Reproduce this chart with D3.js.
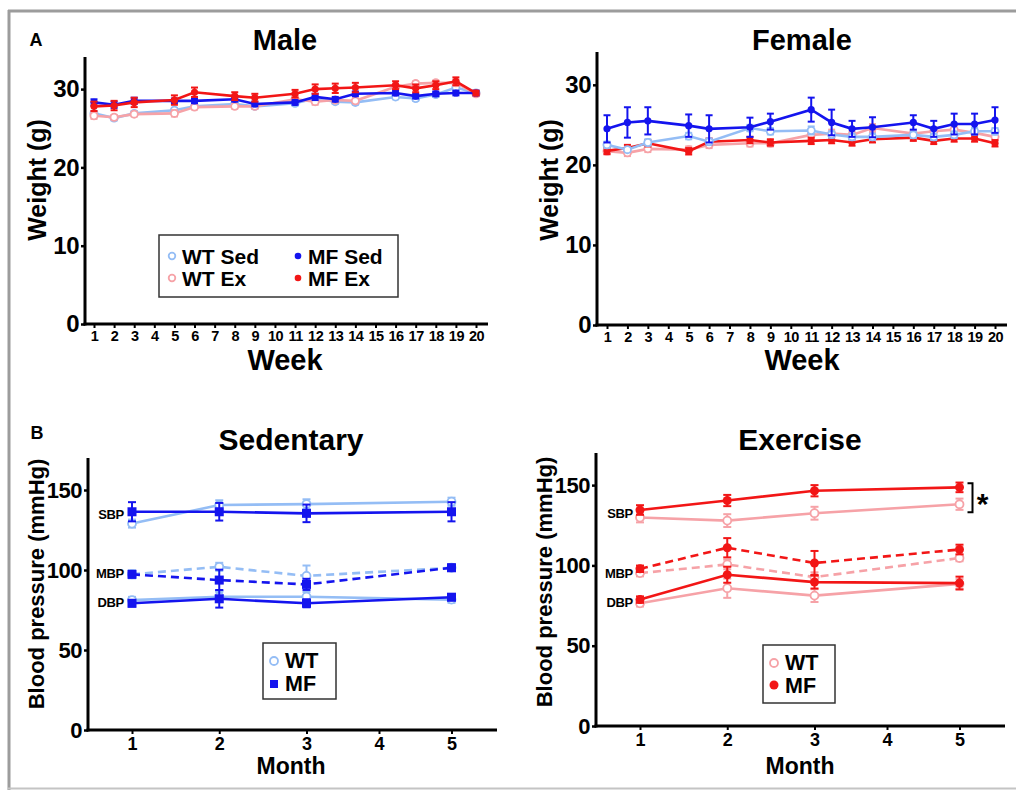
<!DOCTYPE html>
<html><head><meta charset="utf-8">
<script src="https://cdn.jsdelivr.net/npm/d3@7"></script>
<style>
body{margin:0;background:#fff}
svg{display:block}
text{font-family:"Liberation Sans",Arial,Helvetica,sans-serif;font-weight:bold;fill:#000}
</style>
</head><body>
<svg id="chart" width="1016" height="790"></svg>
<script>
// ---------- DATA ----------
const weeks = [1,2,3,5,6,8,9,11,12,13,14,16,17,18,19,20];
const weekTicks = [1,2,3,4,5,6,7,8,9,10,11,12,13,14,15,16,17,18,19,20];
const weightTicks = [0,10,20,30];

// Male weight (g)
const maleWTSed   = [26.9,26.3,26.9,27.3,27.8,28.1,27.8,28.2,28.8,28.4,28.3,29.0,28.8,29.3,30.2,29.5];
const maleWTSedErr= [0.3,0.3,0.3,0.3,0.3,0.3,0.3,0.3,0.3,0.3,0.3,0.3,0.3,0.3,0.4,0.3];
const maleWTEx    = [26.6,26.4,26.8,26.9,27.7,27.8,27.8,28.7,28.4,28.6,28.5,30.3,30.7,30.8,30.8,29.4];
const maleWTExErr = [0.4,0.3,0.3,0.4,0.3,0.3,0.3,0.4,0.4,0.3,0.3,0.3,0.3,0.3,0.4,0.3];
const maleMFSed   = [28.3,28.0,28.5,28.5,28.5,28.7,28.1,28.3,29.0,28.7,29.4,29.5,29.1,29.4,29.5,29.5];
const maleMFSedErr= [0.4,0.4,0.4,0.3,0.3,0.3,0.3,0.3,0.4,0.3,0.3,0.3,0.3,0.3,0.3,0.3];
const maleMFEx    = [27.8,27.9,28.3,28.6,29.6,29.1,28.9,29.4,30.0,30.1,30.2,30.5,30.1,30.5,31.0,29.5];
const maleMFExErr = [0.6,0.6,0.6,0.6,0.6,0.5,0.5,0.5,0.6,0.6,0.6,0.5,0.5,0.5,0.5,0.3];

// Female weight (g)
const femWTSed    = [22.5,21.9,22.8,23.6,22.9,24.6,24.2,24.3,23.8,23.5,23.5,23.75,23.5,23.75,24.2,24.2];
const femWTSedErr = [0.4,0.3,0.4,0.4,0.4,0.4,0.4,0.5,0.4,0.4,0.4,0.4,0.4,0.4,0.4,0.4];
const femWTEx     = [21.7,21.5,22.0,21.9,22.5,22.7,22.7,23.75,23.9,23.75,24.6,23.9,24.2,24.4,24.0,23.5];
const femWTExErr  = [0.4,0.4,0.4,0.4,0.4,0.4,0.4,0.5,0.5,0.4,0.5,0.4,0.5,0.5,0.5,0.5];
const femMFSed    = [24.5,25.3,25.5,24.9,24.5,24.7,25.4,26.9,25.3,24.5,24.7,25.3,24.5,25.1,25.1,25.6];
const femMFSedErr = [1.7,1.9,1.7,1.4,1.7,1.2,1.0,1.5,1.6,1.0,1.25,0.9,1.0,1.3,1.3,1.6];
const femMFEx     = [21.75,22.1,22.7,21.7,22.9,23.1,22.8,23.0,23.1,22.8,23.2,23.4,23.0,23.3,23.3,22.7];
const femMFExErr  = [0.4,0.4,0.4,0.4,0.4,0.4,0.4,0.4,0.4,0.4,0.4,0.4,0.4,0.4,0.4,0.4];

// Blood pressure (mmHg)
const months = [1,2,3,5];
const monthTicks = [1,2,3,4,5];
const bpTicks = [0,50,100,150];

const sedWTSBP = [129.0,140.6,141.2,142.7]; const sedWTSBPErr = [2.5,3,3,2.5];
const sedMFSBP = [136.4,136.4,135.4,136.4]; const sedMFSBPErr = [6,5.5,5.5,6];
const sedWTMBP = [97.3,102.0,96.3,101.4];   const sedWTMBPErr = [2.5,2.5,6.5,2];
const sedMFMBP = [97.3,93.7,91.0,101.4];    const sedMFMBPErr = [2,6.5,3.5,2];
const sedWTDBP = [81.2,83.3,83.3,81.5];     const sedWTDBPErr = [2,3,3,2];
const sedMFDBP = [79.2,82.0,79.2,83.0];     const sedMFDBPErr = [2,5.5,2.5,2];

const exWTSBP = [129.8,127.9,132.5,138.1];  const exWTSBPErr = [3,4,4,3.5];
const exMFSBP = [134.5,140.4,146.5,148.6];  const exMFSBPErr = [3,3.5,3.5,3];
const exWTMBP = [95.2,100.6,92.7,104.6];    const exWTMBPErr = [2,3,3,2];
const exMFMBP = [97.9,111.0,101.5,109.9];   const exMFMBPErr = [2,6,7.5,3];
const exWTDBP = [76.4,85.8,81.2,88.5];      const exWTDBPErr = [2,6,4,3];
const exMFDBP = [78.7,94.2,89.6,89.0];      const exMFDBPErr = [2,5,4,4];

// ---------- STYLE ----------
const C = {wtSed:"#94bdf5", mfSed:"#1414ee", wtEx:"#f6a2a7", mfEx:"#f21616"};

const svg = d3.select("#chart");

// frame
svg.append("line").attr("x1",8).attr("x2",1016).attr("y1",11).attr("y2",11).attr("stroke","#9c9c9c").attr("stroke-width",3);
svg.append("line").attr("x1",9).attr("x2",9).attr("y1",10).attr("y2",790).attr("stroke","#9c9c9c").attr("stroke-width",3);
svg.append("line").attr("x1",8).attr("x2",1016).attr("y1",788.5).attr("y2",788.5).attr("stroke","#c4c4c4").attr("stroke-width",2);

function axes(g, x, y, xTicks, yTicks, box, f){
  const ya = d3.axisLeft(y).tickValues(yTicks).tickSize(4).tickPadding(2).tickFormat(d3.format("d"));
  const gy = g.append("g").attr("transform",`translate(${box.x0},0)`).call(ya);
  gy.select(".domain").remove();
  gy.selectAll(".tick line").attr("stroke","#000").attr("stroke-width",2.5);
  gy.selectAll(".tick text").style("font-size",f.y+"px").attr("fill","#000").attr("letter-spacing",f.yls||0);
  const xa = d3.axisBottom(x).tickValues(xTicks).tickSize(4).tickPadding(3).tickFormat(d3.format("d"));
  const gx = g.append("g").attr("transform",`translate(0,${box.yb})`).call(xa);
  gx.select(".domain").remove();
  gx.selectAll(".tick line").attr("stroke","#000").attr("stroke-width",2);
  gx.selectAll(".tick text").style("font-size",f.x+"px").attr("fill","#000").attr("letter-spacing",f.ls||0);
  g.append("line").attr("x1",box.x0).attr("x2",box.x0).attr("y1",box.yt).attr("y2",box.yb+1.5).attr("stroke","#000").attr("stroke-width",3);
  g.append("line").attr("x1",box.x0-1.5).attr("x2",box.x1).attr("y1",box.yb).attr("y2",box.yb).attr("stroke","#000").attr("stroke-width",3);
}

function series(g, x, y, xs, vals, errs, color, o){
  const pts = vals.map((v,i)=>({x:xs[i], v:v, e:errs[i]}));
  const line = d3.line().x(d=>x(d.x)).y(d=>y(d.v));
  g.append("path").datum(pts).attr("d",line).attr("fill","none")
    .attr("stroke",color).attr("stroke-width",o.lw||2.5).attr("stroke-dasharray",o.dash||null);
  const cw = o.cap||4;
  const eb = g.append("g").selectAll("g").data(pts).join("g");
  eb.append("line").attr("x1",d=>x(d.x)).attr("x2",d=>x(d.x)).attr("y1",d=>y(d.v-d.e)).attr("y2",d=>y(d.v+d.e)).attr("stroke",color).attr("stroke-width",2);
  eb.append("line").attr("x1",d=>x(d.x)-cw).attr("x2",d=>x(d.x)+cw).attr("y1",d=>y(d.v+d.e)).attr("y2",d=>y(d.v+d.e)).attr("stroke",color).attr("stroke-width",2);
  eb.append("line").attr("x1",d=>x(d.x)-cw).attr("x2",d=>x(d.x)+cw).attr("y1",d=>y(d.v-d.e)).attr("y2",d=>y(d.v-d.e)).attr("stroke",color).attr("stroke-width",2);
  const r = o.r||3.5;
  if(o.shape==="square"){
    g.append("g").selectAll("rect").data(pts).join("rect")
      .attr("x",d=>x(d.x)-r).attr("y",d=>y(d.v)-r).attr("width",2*r).attr("height",2*r).attr("fill",color);
  } else {
    g.append("g").selectAll("circle").data(pts).join("circle")
      .attr("cx",d=>x(d.x)).attr("cy",d=>y(d.v)).attr("r",r)
      .attr("fill",o.open?"#fff":color).attr("stroke",color).attr("stroke-width",o.open?1.8:0);
  }
}

function label(g, txt, x, y, size, anchor, rot){
  const t = g.append("text").text(txt).style("font-size",size+"px").attr("text-anchor",anchor||"middle");
  if(rot) t.attr("transform",`translate(${x},${y}) rotate(-90)`); else t.attr("x",x).attr("y",y);
  return t;
}

// ---------- WEIGHT PANELS ----------
function weightPanel(box, data, title, legend){
  const g = svg.append("g");
  const x = d3.scaleLinear().domain([1,20]).range([box.t1, box.t20]);
  const y = d3.scaleLinear().domain([0,34.1]).range([box.yb, box.yt]);
  axes(g, x, y, weekTicks, weightTicks, box, {y:24, yls:-0.5, x:14.5, ls:-0.5});
  data.forEach(s=>series(g, x, y, weeks, s.v, s.e, s.c, {lw:2.6, r:3.6, cap:3.5, open:s.open}));
  label(g, title.t, title.x, 50, 29);
  label(g, "Week", title.x, 370, 29);
  label(g, "Weight (g)", box.x0-39, 180, 25, "middle", true);
  if(legend){
    const L = g.append("g");
    L.append("rect").attr("x",159).attr("y",235).attr("width",239).attr("height",62).attr("fill","#fff").attr("stroke","#333").attr("stroke-width",1.5);
    const items = [
      {t:"WT Sed", c:C.wtSed, open:true, mx:172, tx:182, y:256},
      {t:"MF Sed", c:C.mfSed, open:false, mx:298, tx:308, y:256},
      {t:"WT Ex", c:C.wtEx, open:true, mx:172, tx:182, y:278},
      {t:"MF Ex", c:C.mfEx, open:false, mx:298, tx:308, y:278}
    ];
    items.forEach(it=>{
      L.append("circle").attr("cx",it.mx).attr("cy",it.y).attr("r",3.3)
        .attr("fill",it.open?"#fff":it.c).attr("stroke",it.c).attr("stroke-width",it.open?1.8:0);
      L.append("text").attr("x",it.tx).attr("y",it.y+7.5).style("font-size","21px").text(it.t);
    });
  }
}

weightPanel({x0:85, x1:488, yt:57, yb:324, t1:94, t20:476}, [
  {v:maleWTSed, e:maleWTSedErr, c:C.wtSed, open:true},
  {v:maleWTEx,  e:maleWTExErr,  c:C.wtEx,  open:true},
  {v:maleMFSed, e:maleMFSedErr, c:C.mfSed},
  {v:maleMFEx,  e:maleMFExErr,  c:C.mfEx}
], {t:"Male", x:285}, true);

weightPanel({x0:597, x1:1007, yt:52, yb:325, t1:607, t20:995}, [
  {v:femWTEx,   e:femWTExErr,   c:C.wtEx,  open:true},
  {v:femMFEx,   e:femMFExErr,   c:C.mfEx},
  {v:femWTSed,  e:femWTSedErr,  c:C.wtSed, open:true},
  {v:femMFSed,  e:femMFSedErr,  c:C.mfSed}
], {t:"Female", x:802}, false);

label(svg, "A", 36, 46, 18);
label(svg, "B", 37, 439, 18);

// ---------- BLOOD PRESSURE PANELS ----------
function bpPanel(box, sets, cWT, cMF, mfShape, title, leg){
  const g = svg.append("g");
  const x = d3.scaleLinear().domain([1,3,5]).range([box.x0+44, box.x0+218.5, box.x0+363.5]);
  const y = d3.scaleLinear().domain([0,170]).range([box.yb, box.yt]);
  axes(g, x, y, monthTicks, bpTicks, box, {y:22, yls:-0.5, x:18});
  sets.forEach(s=>{
    series(g, x, y, months, s.wt, s.wtE, cWT, {lw:2.6, r:4, cap:4, open:true, dash:s.dash});
    series(g, x, y, months, s.mf, s.mfE, cMF, {lw:2.6, r:4.5, cap:4, shape:mfShape, dash:s.dash});
  });
  label(g, title.t, title.x, 450, 30);
  label(g, "Month", title.x, 774, 23);
  label(g, "Blood pressure (mmHg)", box.x0-44, box.ly, 22, "middle", true);
  const lx = box.x0-box.lblOff;
  ["SBP","MBP","DBP"].forEach((t,i)=>{
    g.append("text").attr("x",lx).attr("y",box.lblY[i]).attr("text-anchor","end").style("font-size","13px").attr("letter-spacing",-0.3).text(t);
  });
  const L = g.append("g");
  L.append("rect").attr("x",leg.x).attr("y",leg.y).attr("width",leg.w).attr("height",leg.h).attr("fill","#fff").attr("stroke","#333").attr("stroke-width",1.5);
  L.append("circle").attr("cx",leg.x+11).attr("cy",leg.y+18).attr("r",4).attr("fill","#fff").attr("stroke",cWT).attr("stroke-width",1.8);
  if(mfShape==="square") L.append("rect").attr("x",leg.x+7).attr("y",leg.y+37).attr("width",8).attr("height",8).attr("fill",cMF);
  else L.append("circle").attr("cx",leg.x+11).attr("cy",leg.y+40).attr("r",4.5).attr("fill",cMF);
  L.append("text").attr("x",leg.x+22).attr("y",leg.y+25).style("font-size","21.5px").text("WT");
  L.append("text").attr("x",leg.x+22).attr("y",leg.y+48).style("font-size","21.5px").text("MF");
  return {g,x,y};
}

bpPanel({x0:88, x1:497, yt:458, yb:730, ly:584, lblOff:-36, lblY:[519,578,607]}, [
  {wt:sedWTSBP, wtE:sedWTSBPErr, mf:sedMFSBP, mfE:sedMFSBPErr},
  {wt:sedWTMBP, wtE:sedWTMBPErr, mf:sedMFMBP, mfE:sedMFMBPErr, dash:"8,5"},
  {wt:sedWTDBP, wtE:sedWTDBPErr, mf:sedMFDBP, mfE:sedMFDBPErr}
], C.wtSed, C.mfSed, "square", {t:"Sedentary", x:291}, {x:263, y:643, w:73, h:56});

const ex = bpPanel({x0:596, x1:1005, yt:453, yb:726, ly:582, lblOff:-37, lblY:[518,578,607]}, [
  {wt:exWTSBP, wtE:exWTSBPErr, mf:exMFSBP, mfE:exMFSBPErr},
  {wt:exWTMBP, wtE:exWTMBPErr, mf:exMFMBP, mfE:exMFMBPErr, dash:"8,5"},
  {wt:exWTDBP, wtE:exWTDBPErr, mf:exMFDBP, mfE:exMFDBPErr}
], C.wtEx, C.mfEx, "circle", {t:"Exercise", x:800}, {x:763, y:645, w:72, h:58});

// significance bracket between SBP groups at month 5
const bx = ex.x(5)+8;
const yTop = ex.y(exMFSBP[3]+2.5), yBot = ex.y(exWTSBP[3]-5);
ex.g.append("path").attr("d",`M${bx},${yTop}H${bx+5}V${yBot}H${bx}`).attr("fill","none").attr("stroke","#000").attr("stroke-width",2);
ex.g.append("text").attr("x",bx+15).attr("y",(yTop+yBot)/2+16).attr("text-anchor","middle").style("font-size","30px").text("*");
</script>
</body></html>
